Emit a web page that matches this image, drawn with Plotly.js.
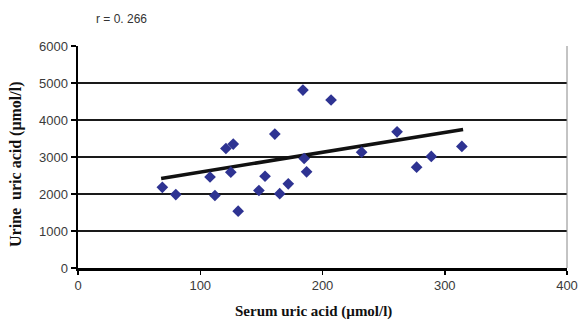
<!DOCTYPE html>
<html>
<head>
<meta charset="utf-8">
<script src="https://cdn.plot.ly/plotly-3.0.1.min.js"></script>
<style>html,body{margin:0;padding:0;background:#fff;}#chart{width:579px;height:320px;}</style>
</head>
<body>
<div id="chart"></div>
<script>
// Serum uric acid (µmol/l)
const serumUA = [69, 80, 108, 112, 121, 127, 125, 131, 148, 153, 161, 165, 172, 184, 185, 187, 207, 232, 261, 277, 289, 314];
// Urine uric acid (µmol/l)
const urineUA = [2180, 1985, 2460, 1960, 3230, 3350, 2590, 1535, 2095, 2480, 3620, 2010, 2275, 4810, 2960, 2600, 4540, 3130, 3680, 2725, 3015, 3285];
// Linear trend line end points
const trendX = [68, 315];
const trendY = [2420, 3745];
const xTicks = [0, 100, 200, 300, 400];
const yTicks = [0, 1000, 2000, 3000, 4000, 5000, 6000];

const traces = [
  {x: trendX, y: trendY, mode: 'lines', type: 'scatter', line: {color: '#111', width: 3.5}, hoverinfo: 'skip'},
  {x: serumUA, y: urineUA, mode: 'markers', type: 'scatter',
   marker: {symbol: 'diamond', size: 9, color: '#2E3392'}}
];

const layout = {
  width: 579, height: 320,
  margin: {l: 78, r: 12, t: 46, b: 52},
  paper_bgcolor: '#fff', plot_bgcolor: '#fff',
  showlegend: false,
  font: {family: 'Liberation Sans, Arial, sans-serif', size: 13, color: '#3a3a3a'},
  xaxis: {
    range: [0, 400], tickvals: xTicks, ticktext: xTicks.map(String),
    showgrid: false, zeroline: false,
    showline: true, linecolor: '#000', linewidth: 2.5,
    ticks: 'outside', ticklen: 4, tickwidth: 1.5, tickcolor: '#000',
    fixedrange: true
  },
  yaxis: {
    range: [0, 6000], tickvals: yTicks, ticktext: yTicks.map(String),
    showgrid: true, gridcolor: '#1a1a1a', gridwidth: 1.6,
    zeroline: false,
    showline: true, linecolor: '#000', linewidth: 2.5,
    ticks: 'outside', ticklen: 5, tickwidth: 1.5, tickcolor: '#000',
    fixedrange: true
  },
  shapes: [
    {type: 'line', xref: 'paper', yref: 'paper', x0: 1, x1: 1, y0: 0, y1: 1, line: {color: '#888', width: 1}}
  ],
  annotations: [
    {text: 'r = 0. 266', xref: 'paper', yref: 'paper', x: 10/489, y: 1 + 27/222, xanchor: 'left', yanchor: 'middle', showarrow: false, xshift: 6,
     font: {family: 'Liberation Sans, Arial, sans-serif', size: 12, color: '#333'}},
    {text: '<b>Serum uric acid (µmol/l)</b>', xref: 'paper', yref: 'paper', x: (313-78)/489, y: -(43/222), xanchor: 'center', yanchor: 'middle', showarrow: false,
     font: {family: 'Liberation Serif, Times New Roman, serif', size: 15, color: '#111'}},
    {text: '<b>Urine  uric acid (μmol/l)</b>', xref: 'paper', yref: 'paper', x: -(62/489), y: (268-165)/222, xanchor: 'center', yanchor: 'middle', textangle: -90, showarrow: false,
     font: {family: 'Liberation Serif, Times New Roman, serif', size: 16, color: '#111'}}
  ]
};

Plotly.newPlot('chart', traces, layout, {displayModeBar: false, staticPlot: true});
</script>
</body>
</html>
